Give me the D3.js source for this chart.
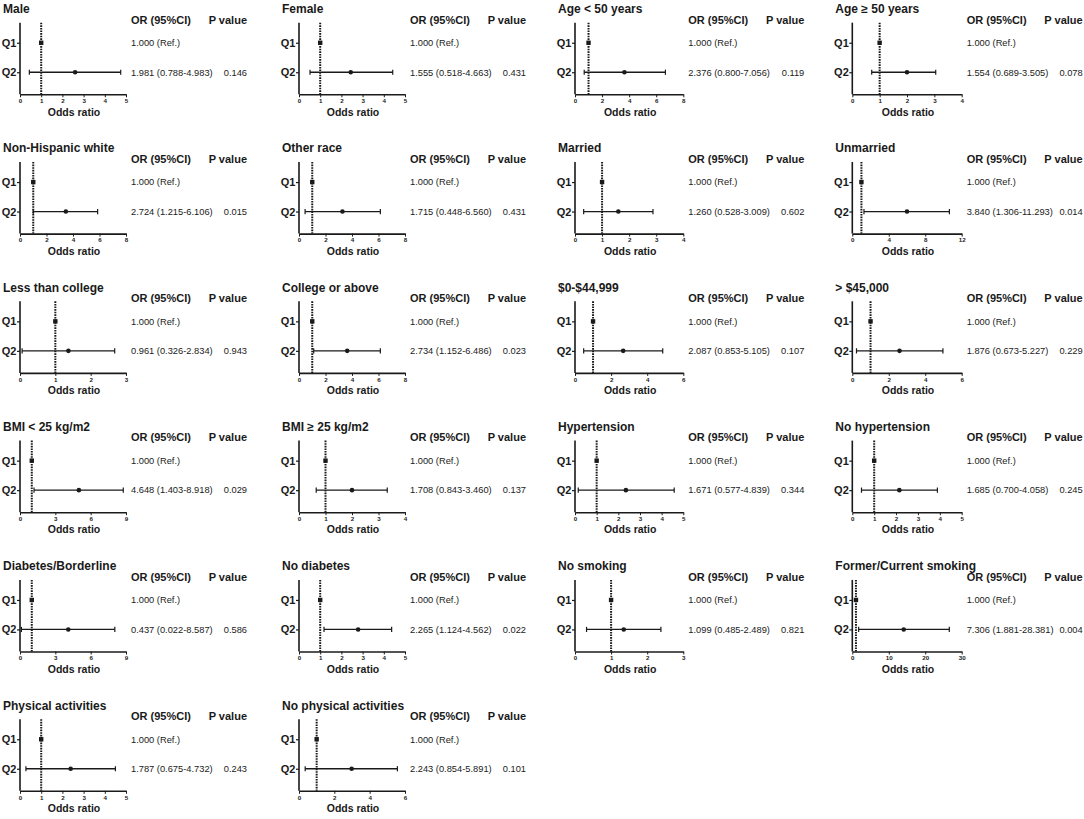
<!DOCTYPE html>
<html>
<head>
<meta charset="utf-8">
<script src="https://d3js.org/d3.v7.min.js"></script>
<style>
  body { margin: 0; background: #fff; }
  svg text { font-family: "Liberation Sans", Arial, sans-serif; fill: #1a1a1a; }
</style>
</head>
<body>
<script>
// subgroups, one small forest plot each (read left to right, top to bottom)
const groups = ["Male", "Female", "Age < 50 years", "Age \u2265 50 years",
  "Non-Hispanic white", "Other race", "Married", "Unmarried",
  "Less than college", "College or above", "$0-$44,999", "> $45,000",
  "BMI < 25 kg/m2", "BMI \u2265 25 kg/m2", "Hypertension", "No hypertension",
  "Diabetes/Borderline", "No diabetes", "No smoking", "Former/Current smoking",
  "Physical activities", "No physical activities"];

const orText = ["1.981 (0.788-4.983)", "1.555 (0.518-4.663)", "2.376 (0.800-7.056)", "1.554 (0.689-3.505)",
  "2.724 (1.215-6.106)", "1.715 (0.448-6.560)", "1.260 (0.528-3.009)", "3.840 (1.306-11.293)",
  "0.961 (0.326-2.834)", "2.734 (1.152-6.486)", "2.087 (0.853-5.105)", "1.876 (0.673-5.227)",
  "4.648 (1.403-8.918)", "1.708 (0.843-3.460)", "1.671 (0.577-4.839)", "1.685 (0.700-4.058)",
  "0.437 (0.022-8.587)", "2.265 (1.124-4.562)", "1.099 (0.485-2.489)", "7.306 (1.881-28.381)",
  "1.787 (0.675-4.732)", "2.243 (0.854-5.891)"];
const pText = ["0.146", "0.431", "0.119", "0.078",
  "0.015", "0.431", "0.602", "0.014",
  "0.943", "0.023", "0.107", "0.229",
  "0.029", "0.137", "0.344", "0.245",
  "0.586", "0.022", "0.821", "0.004",
  "0.243", "0.101"];
const refText = "1.000 (Ref.)";

// plotted Q2 marker and whisker ends, as drawn in the figure
const q2Est  = [2.6, 2.44, 3.65, 2.0,  3.46, 3.28, 1.6, 6.0,  1.37, 3.64, 2.67, 2.59,
                5.0, 2.0, 2.35, 2.15,  4.1, 2.79, 1.35, 14.1,  2.39, 2.98];
const q2Low  = [0.44, 0.52, 0.68, 0.71,  1.0, 0.46, 0.32, 1.28,  0.06, 1.11, 0.48, 0.23,
                1.19, 0.65, 0.15, 0.42,  0.12, 1.18, 0.32, 1.74,  0.28, 0.35];
const q2High = [4.75, 4.42, 6.68, 3.05,  5.86, 6.14, 2.88, 10.65,  2.68, 6.14, 4.86, 4.97,
                8.77, 3.33, 4.58, 3.89,  8.05, 4.37, 2.38, 26.6,  4.5, 5.57];
const refOR = 1;

// x axis of each panel
const xMax  = [5, 5, 8, 4,  8, 8, 4, 12,  3, 8, 6, 6,  9, 4, 5, 5,  9, 5, 3, 30,  5, 6];
const xStep = [1, 1, 2, 1,  2, 2, 1, 4,   1, 2, 2, 2,  3, 1, 1, 1,  3, 1, 1, 10,  1, 2];

const rowNames = ["Q1", "Q2"];

function makeSVG() {
    const width = 1084;
    const height = 819;
    const colAxisX = [20, 299, 575, 852.3];
    const axisW = [106, 106, 108.3, 109.4];
    const rowH = 139.3;
    const ink = "#1a1a1a";

    var svg = d3.select("body").append("svg")
        .attr("width", width)
        .attr("height", height);

    groups.forEach(function(name, i) {
        const col = i % 4, row = Math.floor(i / 4);
        const x0 = colAxisX[col], x1 = x0 + axisW[col];
        const g = svg.append("g").attr("transform", `translate(0,${(row * rowH).toFixed(1)})`);

        // SCALES ////////////////////////////////////////////
        const xSc = d3.scaleLinear().domain([0, xMax[i]]).range([x0, x1]);
        const ySc = d3.scalePoint().domain(rowNames).range([22.7, 92.3]).padding(0.68);
        const yTop = 22.7, yBot = 94.3;

        // TITLE /////////////////////////////////////////////
        g.append("text").attr("x", x0 - 17).attr("y", 13)
            .attr("font-size", 12).attr("font-weight", "bold").text(name);

        // AXES //////////////////////////////////////////////
        const xg = g.append("g").attr("transform", `translate(0,${yBot})`)
            .call(d3.axisBottom(xSc)
                .tickValues(d3.range(0, xMax[i] + xStep[i] / 2, xStep[i]))
                .tickFormat(d3.format("d"))
                .tickSize(3).tickSizeOuter(0).tickPadding(1.5));
        xg.select(".domain").attr("stroke", ink).attr("stroke-width", 1.6);
        xg.selectAll(".tick line").attr("stroke", ink).attr("stroke-width", 1);
        xg.selectAll(".tick text").attr("font-size", 6.2).attr("font-weight", "bold")
            .attr("font-family", null).attr("fill", ink);

        const yg = g.append("g").attr("transform", `translate(${x0},0)`)
            .call(d3.axisLeft(ySc).tickSize(3).tickSizeOuter(0).tickPadding(0.5));
        yg.select(".domain").remove();
        yg.selectAll(".tick line").attr("stroke", ink).attr("stroke-width", 1.2);
        yg.selectAll(".tick text").attr("font-size", 11).attr("font-weight", "bold")
            .attr("font-family", null).attr("fill", ink);
        g.append("line").attr("x1", x0).attr("x2", x0).attr("y1", yTop).attr("y2", yBot)
            .attr("stroke", ink).attr("stroke-width", 1.6);

        g.append("text").attr("x", (x0 + x1) / 2 + 1).attr("y", 115.5)
            .attr("text-anchor", "middle").attr("font-size", 10.5).attr("font-weight", "bold")
            .text("Odds ratio");

        // REFERENCE LINE ////////////////////////////////////
        g.append("line").attr("x1", xSc(refOR)).attr("x2", xSc(refOR))
            .attr("y1", yTop).attr("y2", yBot)
            .attr("stroke", ink).attr("stroke-width", 2).attr("stroke-dasharray", "1.6,1");

        // MARKS /////////////////////////////////////////////
        const yq2 = ySc("Q2");
        g.append("line").attr("x1", xSc(q2Low[i])).attr("x2", xSc(q2High[i]))
            .attr("y1", yq2).attr("y2", yq2).attr("stroke", ink).attr("stroke-width", 1.3);
        [q2Low[i], q2High[i]].forEach(function(v) {
            g.append("line").attr("x1", xSc(v)).attr("x2", xSc(v))
                .attr("y1", yq2 - 2.6).attr("y2", yq2 + 2.6)
                .attr("stroke", ink).attr("stroke-width", 1.2);
        });
        g.append("circle").attr("cx", xSc(q2Est[i])).attr("cy", yq2).attr("r", 2.3).attr("fill", ink);

        g.append("rect").attr("x", xSc(refOR) - 2.2).attr("y", ySc("Q1") - 2.2)
            .attr("width", 4.4).attr("height", 4.4).attr("fill", ink);

        // TABLE TEXT ////////////////////////////////////////
        const orX = x1 + 5, pR = x1 + 121;
        g.append("text").attr("x", orX).attr("y", 23.5)
            .attr("font-size", 11).attr("font-weight", "bold").text("OR (95%CI)");
        g.append("text").attr("x", pR).attr("y", 23.5).attr("text-anchor", "end")
            .attr("font-size", 11).attr("font-weight", "bold").text("P value");

        g.append("text").attr("x", orX).attr("y", ySc("Q1") + 3.3)
            .attr("font-size", 9.3).text(refText);
        g.append("text").attr("x", orX).attr("y", yq2 + 3.3)
            .attr("font-size", 9.3).text(orText[i]);
        g.append("text").attr("x", pR).attr("y", yq2 + 3.3).attr("text-anchor", "end")
            .attr("font-size", 9.3).text(pText[i]);
    });
}
makeSVG();
</script>
</body>
</html>
